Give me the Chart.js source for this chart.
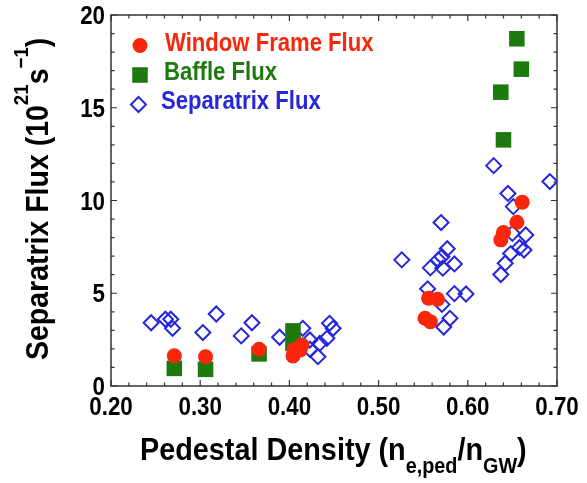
<!DOCTYPE html>
<html>
<head>
<meta charset="utf-8">
<script src="https://cdn.jsdelivr.net/npm/chart.js"></script>
<style>
  body { margin: 0; background: #fff; }
  #wrap { width: 587px; height: 483px; }
</style>
</head>
<body>
<div id="wrap"><canvas id="flux"></canvas></div>
<script>
// values
const windowX = [0.271, 0.306, 0.366, 0.404, 0.405, 0.412, 0.414, 0.552, 0.558, 0.556, 0.566, 0.637, 0.640, 0.655, 0.661];
const windowY = [1.63, 1.58, 1.98, 1.62, 1.94, 1.94, 2.21, 3.65, 3.47, 4.73, 4.68, 7.88, 8.27, 8.83, 9.91];

const baffleX = [0.271, 0.306, 0.366, 0.404, 0.404, 0.640, 0.637, 0.660, 0.655];
const baffleY = [0.95, 0.90, 1.73, 2.30, 2.97, 13.27, 15.84, 17.08, 18.72];

const sepX = [0.245, 0.261, 0.267, 0.269, 0.303, 0.318, 0.346, 0.358, 0.389, 0.415, 0.423, 0.434, 0.442, 0.445, 0.449, 0.432, 0.423,
  0.526, 0.570, 0.555, 0.558, 0.567, 0.571, 0.577, 0.572, 0.585, 0.585, 0.598, 0.571, 0.580, 0.573,
  0.629, 0.692, 0.645, 0.651, 0.650, 0.665, 0.658, 0.663, 0.648, 0.642, 0.637];
const sepY = [3.41, 3.60, 3.60, 3.11, 2.88, 3.88, 2.70, 3.41, 2.63, 3.11, 2.48, 2.30, 2.57, 3.38, 3.11, 1.58, 1.98,
  6.80, 8.81, 5.24, 6.37, 6.80, 6.97, 7.40, 6.35, 6.58, 4.98, 4.96, 4.40, 3.65, 3.18,
  11.88, 11.02, 10.38, 9.67, 8.23, 8.14, 7.47, 7.33, 7.14, 6.62, 6.01];

const xTicks = [0.2, 0.3, 0.4, 0.5, 0.6, 0.7];
const xTickLabels = ['0.20', '0.30', '0.40', '0.50', '0.60', '0.70'];
const yTicks = [0, 5, 10, 15, 20];
const yTickLabels = ['0', '5', '10', '15', '20'];

const red = '#f8260a';
const green = '#1e7a0e';
const blue = '#2626dc';
const font = '"Liberation Sans", Arial, sans-serif';

function zip(xs, ys) {
  return xs.map(function(x, i) { return { x: x, y: ys[i] }; });
}

// draws a row of text pieces (for sub/superscripts), squeezed a bit sideways
function drawRuns(ctx, runs, squeeze) {
  let cx = 0;
  ctx.save();
  ctx.scale(squeeze, 1);
  for (let run of runs) {
    ctx.font = 'bold ' + run.size + 'px ' + font;
    ctx.fillText(run.text, cx, run.dy || 0);
    cx += ctx.measureText(run.text).width;
  }
  ctx.restore();
}

const framePlugin = {
  id: 'frame',
  beforeDatasetsDraw: function(chart) {
    const ctx = chart.ctx;
    const area = chart.chartArea;
    const xs = chart.scales.x;
    const ys = chart.scales.y;

    ctx.save();
    ctx.strokeStyle = '#333';
    ctx.lineWidth = 1.5;
    ctx.strokeRect(area.left, area.top, area.right - area.left, area.bottom - area.top);

    ctx.lineWidth = 1.2;
    ctx.beginPath();
    for (let i = 0; i <= 25; i++) {
      const px = xs.getPixelForValue(0.2 + i * 0.02);
      const len = i % 5 === 0 ? 6 : 3.5;
      ctx.moveTo(px, area.bottom); ctx.lineTo(px, area.bottom - len);
      ctx.moveTo(px, area.top); ctx.lineTo(px, area.top + len);
    }
    for (let v = 0; v <= 20; v++) {
      const py = ys.getPixelForValue(v);
      const len = v % 5 === 0 ? 6 : 3.5;
      ctx.moveTo(area.left, py); ctx.lineTo(area.left + len, py);
      ctx.moveTo(area.right, py); ctx.lineTo(area.right - len, py);
    }
    ctx.stroke();
    ctx.restore();
  },
  afterDraw: function(chart) {
    const ctx = chart.ctx;
    const area = chart.chartArea;
    const xs = chart.scales.x;
    const ys = chart.scales.y;

    ctx.save();
    ctx.fillStyle = '#000';
    ctx.textBaseline = 'alphabetic';

    // tick labels
    ctx.font = 'bold 26px ' + font;
    xTicks.forEach(function(v, i) {
      const w = ctx.measureText(xTickLabels[i]).width * 0.86;
      ctx.save();
      ctx.translate(xs.getPixelForValue(v) - w / 2, area.bottom + 29);
      drawRuns(ctx, [{ text: xTickLabels[i], size: 26 }], 0.86);
      ctx.restore();
    });
    yTicks.forEach(function(v, i) {
      ctx.font = 'bold 26px ' + font;
      const w = ctx.measureText(yTickLabels[i]).width * 0.86;
      ctx.save();
      ctx.translate(area.left - 6 - w, ys.getPixelForValue(v) + 9);
      drawRuns(ctx, [{ text: yTickLabels[i], size: 26 }], 0.86);
      ctx.restore();
    });

    // x axis title
    ctx.save();
    ctx.translate(140, 460);
    drawRuns(ctx, [
      { text: 'Pedestal Density (n', size: 32 },
      { text: 'e,ped', size: 22, dy: 13 },
      { text: '/n', size: 32 },
      { text: 'GW', size: 22, dy: 13 },
      { text: ')', size: 32 }
    ], 0.9);
    ctx.restore();

    // y axis title
    ctx.save();
    ctx.translate(48, 360);
    ctx.rotate(-Math.PI / 2);
    drawRuns(ctx, [
      { text: 'Separatrix Flux (10', size: 32 },
      { text: '21', size: 21, dy: -20 },
      { text: 's', size: 32 },
      { text: '\u22121', size: 21, dy: -20 },
      { text: ')', size: 32 }
    ], 0.89);
    ctx.restore();

    // legend
    const items = [
      { ds: 0, mx: 140, my: 45.5, tx: 165, ty: 51 },
      { ds: 1, mx: 140, my: 75, tx: 164, ty: 80 },
      { ds: 2, mx: 138.5, my: 104.5, tx: 161, ty: 109 }
    ];
    for (let item of items) {
      const ds = chart.data.datasets[item.ds];
      ctx.fillStyle = ds.backgroundColor;
      ctx.strokeStyle = ds.borderColor;
      ctx.lineWidth = ds.borderWidth;
      Chart.helpers.drawPoint(ctx, {
        pointStyle: ds.pointStyle,
        radius: ds.pointRadius,
        borderWidth: ds.borderWidth,
        rotation: 0
      }, item.mx, item.my);
      ctx.fillStyle = ds.borderColor;
      ctx.save();
      ctx.translate(item.tx, item.ty);
      drawRuns(ctx, [{ text: ds.label, size: 26 }], 0.85);
      ctx.restore();
    }
    ctx.restore();
  }
};

new Chart(document.getElementById('flux'), {
  type: 'scatter',
  data: {
    datasets: [{
      label: 'Window Frame Flux',
      data: zip(windowX, windowY),
      pointStyle: 'circle',
      pointRadius: 7.5,
      backgroundColor: red,
      borderColor: red,
      borderWidth: 0
    },
    {
      label: 'Baffle Flux',
      data: zip(baffleX, baffleY),
      pointStyle: 'rect',
      pointRadius: 11,
      backgroundColor: green,
      borderColor: green,
      borderWidth: 0
    },
    {
      label: 'Separatrix Flux',
      data: zip(sepX, sepY),
      pointStyle: 'rectRot',
      pointRadius: 7.5,
      backgroundColor: 'rgba(0,0,0,0)',
      borderColor: blue,
      borderWidth: 2
    }]
  },
  options: {
    responsive: true,
    maintainAspectRatio: false,
    animation: false,
    layout: { padding: { left: 111, right: 30, top: 15, bottom: 97 } },
    plugins: {
      legend: { display: false },
      tooltip: { enabled: false }
    },
    scales: {
      x: { type: 'linear', display: false, min: 0.2, max: 0.7 },
      y: { type: 'linear', display: false, min: 0, max: 20 }
    }
  },
  plugins: [framePlugin]
});
</script>
</body>
</html>
